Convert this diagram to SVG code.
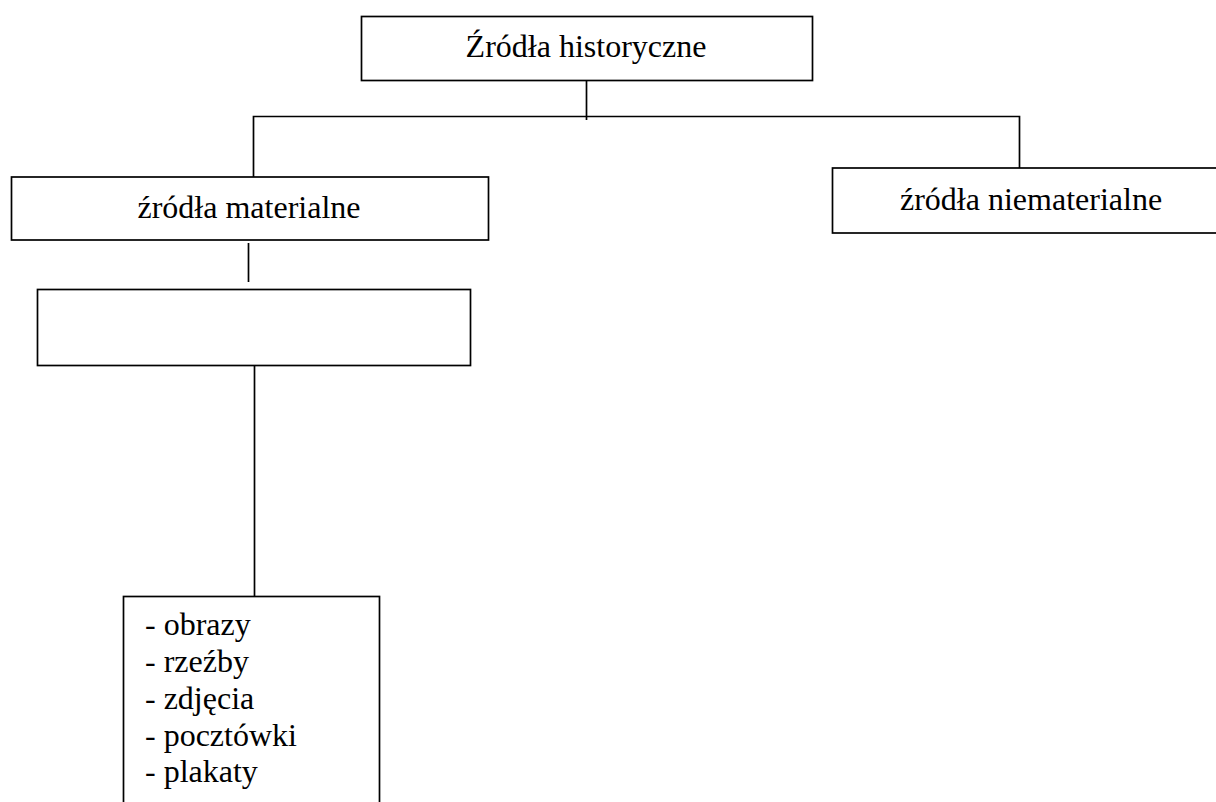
<svg xmlns="http://www.w3.org/2000/svg" width="1216" height="802" viewBox="0 0 1216 802">
<style>
.box{fill:#fff;stroke:#000;stroke-width:1.7}
.t{font-family:"Liberation Serif","Times New Roman",serif;font-size:32px;fill:#000}
.c{text-anchor:middle}
.ln{stroke:#000;stroke-width:1.7;fill:none}
</style>
<rect width="1216" height="802" fill="#fff"/>
<g id="connectors">
<line class="ln" x1="586.5" y1="80" x2="586.5" y2="120"/>
<polyline class="ln" points="253.5,177 253.5,116.5 1019.5,116.5 1019.5,168"/>
<line class="ln" x1="248.5" y1="243" x2="248.5" y2="282"/>
<line class="ln" x1="254.5" y1="365" x2="254.5" y2="596"/>
</g>
<g id="node-historyczne">
<rect class="box" x="361.5" y="16.5" width="451" height="64"/>
<text class="t c" x="586" y="57">Źródła historyczne</text>
</g>
<g id="node-materialne">
<rect class="box" x="11.5" y="177" width="477" height="63"/>
<text class="t c" x="249" y="218">źródła materialne</text>
</g>
<g id="node-niematerialne">
<rect class="box" x="832.5" y="168" width="400" height="65"/>
<text class="t" x="900" y="210">źródła niematerialne</text>
</g>
<g id="node-empty">
<rect class="box" x="37.5" y="289.5" width="433" height="76"/>
</g>
<g id="node-list">
<rect class="box" x="123.5" y="596.5" width="256" height="230"/>
<text class="t" x="145" y="635">- obrazy</text>
<text class="t" x="145" y="671.5">- rzeźby</text>
<text class="t" x="145" y="708.5">- zdjęcia</text>
<text class="t" x="145" y="745.5">- pocztówki</text>
<text class="t" x="145" y="782">- plakaty</text>
</g>
</svg>
